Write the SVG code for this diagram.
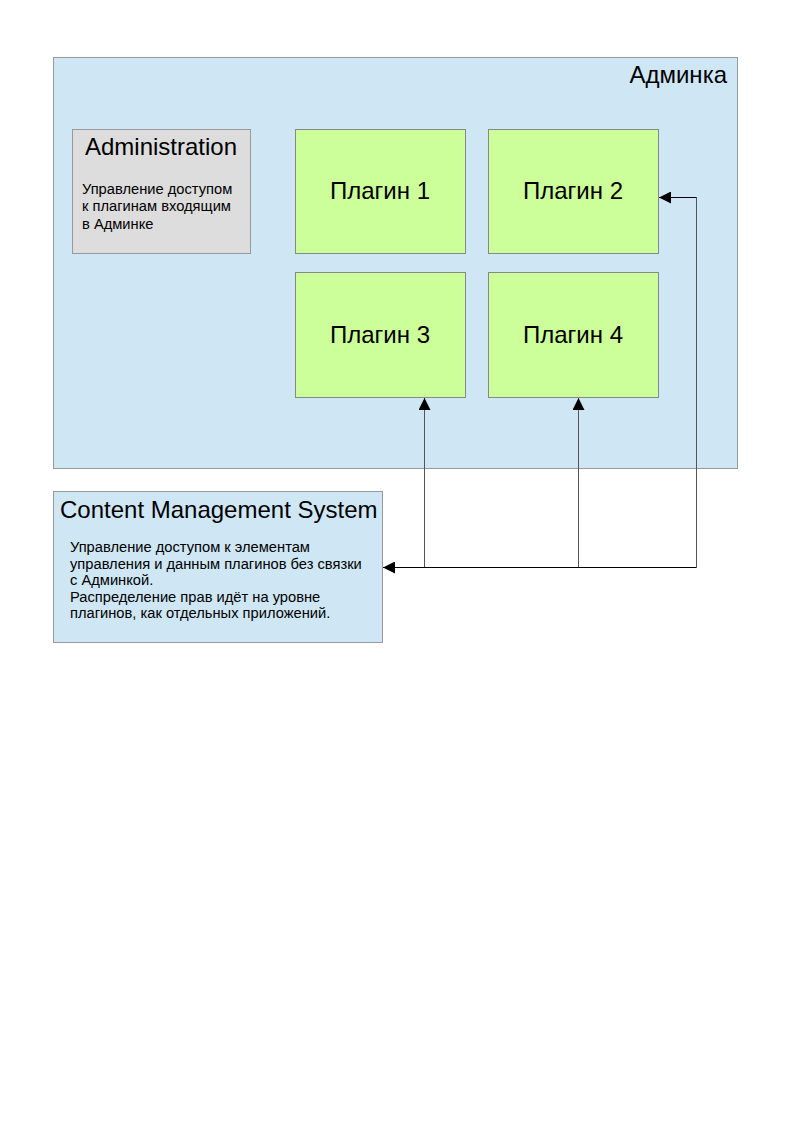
<svg xmlns="http://www.w3.org/2000/svg" width="794" height="1123" viewBox="0 0 794 1123">
<style>
text{font-family:"Liberation Sans",Arial,sans-serif;fill:#000}
.big{font-size:24px}
.small{font-size:14.7px}
.blue{fill:#cfe7f5;stroke:#999;stroke-width:1}
.gray{fill:#dddddd;stroke:#999;stroke-width:1}
.green{fill:#ccff99;stroke:#888;stroke-width:1}
.conn{fill:none;stroke:#000;stroke-width:1}
.vert{fill:none;stroke:#555;stroke-width:1}
</style>
<defs>
<marker id="arr" viewBox="0 0 10 10" refX="10" refY="5" markerWidth="16" markerHeight="12" markerUnits="userSpaceOnUse" orient="auto"><path d="M0,0 L10,5 L0,10 z" fill="#000"/></marker>
</defs>
<rect width="794" height="1123" fill="#fff"/>
<g id="adminka">
<rect class="blue" x="53.5" y="57.5" width="684" height="411"/>
<text x="727" y="83" font-size="24" text-anchor="end">Админка</text>
</g>
<g id="administration">
<rect class="gray" x="72.5" y="129.5" width="178" height="124"/>
<text class="big" x="161" y="155" text-anchor="middle">Administration</text>
<text class="small" x="82" y="194">Управление доступом</text>
<text class="small" x="82" y="211">к плагинам входящим</text>
<text class="small" x="82" y="229">в Админке</text>
</g>
<g id="plugin1">
<rect class="green" x="295.5" y="129.5" width="170" height="124"/>
<text class="big" x="380" y="199" text-anchor="middle">Плагин 1</text>
</g>
<g id="plugin2">
<rect class="green" x="488.5" y="129.5" width="170" height="124"/>
<text class="big" x="573" y="199" text-anchor="middle">Плагин 2</text>
</g>
<g id="plugin3">
<rect class="green" x="295.5" y="272.5" width="170" height="125"/>
<text class="big" x="380" y="343" text-anchor="middle">Плагин 3</text>
</g>
<g id="plugin4">
<rect class="green" x="488.5" y="272.5" width="170" height="125"/>
<text class="big" x="573" y="343" text-anchor="middle">Плагин 4</text>
</g>
<g id="cms">
<rect class="blue" x="53.5" y="491.5" width="329" height="151"/>
<text class="big" x="60" y="518">Content Management System</text>
<text class="small" x="70" y="552">Управление доступом к элементам</text>
<text class="small" x="70" y="569">управления и данным плагинов без связки</text>
<text class="small" x="70" y="585">с Админкой.</text>
<text class="small" x="70" y="602">Распределение прав идёт на уровне</text>
<text class="small" x="70" y="618">плагинов, как отдельных приложений.</text>
</g>
<g id="connectors">
<path class="vert" d="M424.5,567.5 V398" marker-end="url(#arr)"/>
<path class="vert" d="M578.5,567.5 V398" marker-end="url(#arr)"/>
<path class="vert" d="M696.5,567.5 V197.5"/>
<path class="conn" d="M696.5,197.5 H659" marker-end="url(#arr)"/>
<path class="conn" d="M696.5,567.5 H383" marker-end="url(#arr)"/>
</g>
</svg>
